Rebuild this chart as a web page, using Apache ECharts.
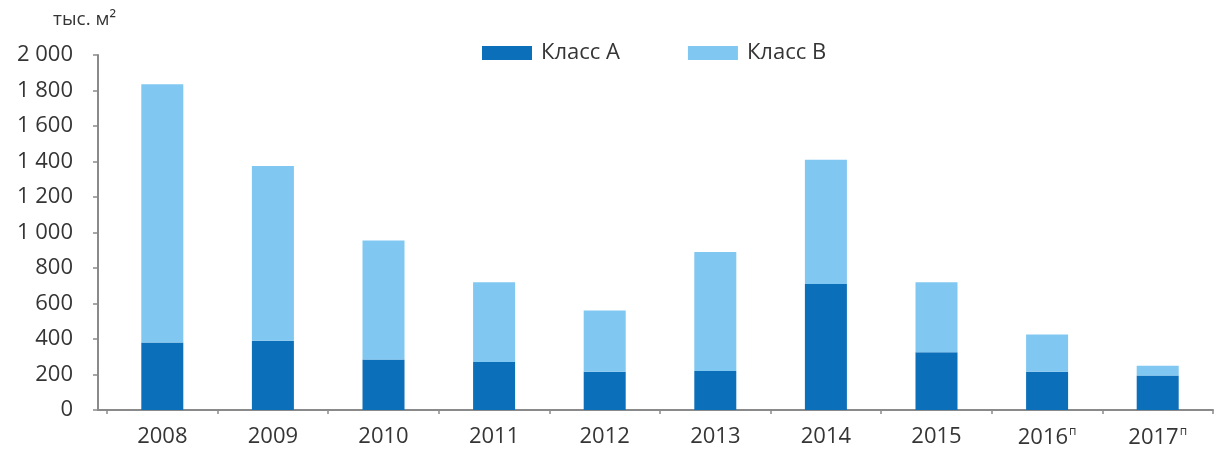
<!DOCTYPE html>
<html>
<head>
<meta charset="utf-8">
<script src="https://cdn.jsdelivr.net/npm/echarts@6/dist/echarts.min.js"></script>
<style>html,body{margin:0;padding:0;background:#fff}#c{width:1220px;height:450px}</style>
</head>
<body>
<div id="c"></div>
<script>
var years = ['2008','2009','2010','2011','2012','2013','2014','2015','2016','2017'];
var forecastMark = ['', '', '', '', '', '', '', '', 'п', 'п'];
var classA = [380, 390, 285, 270, 215, 220, 710, 325, 215, 195];
var classB = [1455, 985, 670, 450, 345, 670, 700, 395, 210, 55];
var yTicks = {min: 0, max: 2000, interval: 200};
var unitLabel = 'тыс. м²';
var seriesNames = ['Класс А', 'Класс В'];

var FONT = '"Open Sans", "Noto Sans", sans-serif';
var TXT = '#353535';
var AX = '#8a8a8a';

function fmtThousands(v){
  var s = String(v);
  return s.length > 3 ? s.slice(0, s.length-3) + ' ' + s.slice(s.length-3) : s;
}

var chart = echarts.init(document.getElementById('c'), null, {renderer:'canvas'});
chart.setOption({
  backgroundColor: '#ffffff',
  animation: false,
  textStyle: {fontFamily: FONT},
  legend: {
    left: 477, top: 37, icon: 'rect',
    itemWidth: 50, itemHeight: 14, itemGap: 68,
    textStyle: {fontFamily: FONT, fontSize: 22, color: TXT, padding: [0,0,0,4]},
    data: seriesNames
  },
  graphic: [{
    type: 'text', left: 53, top: 10,
    style: {text: unitLabel, font: '19px ' + FONT, fill: TXT}
  }],
  grid: [
    {left: 107, right: 7, top: 55, bottom: 40},
    {left: 98, right: 7, top: 55, bottom: 40}
  ],
  xAxis: [{
    type: 'category', gridIndex: 0, data: years,
    axisLine: {show: false},
    axisTick: {show: true, length: 4, lineStyle: {color: AX, width: 1.5}},
    axisLabel: {
      interval: 0, margin: 16, color: TXT, fontFamily: FONT, fontSize: 22,
      formatter: function(v, i){
        var m = forecastMark[i];
        return m ? v + '{sup|' + m + '}' : v;
      },
      rich: {sup: {fontSize: 12, color: TXT, fontFamily: FONT, verticalAlign: 'top', padding: [0,0,12,1]}}
    }
  },{
    type: 'value', gridIndex: 1, min: 0, max: 1,
    axisLine: {show: true, onZero: false, lineStyle: {color: AX, width: 2}},
    axisTick: {show: false}, axisLabel: {show: false}, splitLine: {show: false}
  }],
  yAxis: [{
    type: 'value', gridIndex: 0, min: yTicks.min, max: yTicks.max, interval: yTicks.interval,
    show: false
  },{
    type: 'value', gridIndex: 1, min: yTicks.min, max: yTicks.max, interval: yTicks.interval,
    axisLine: {show: true, lineStyle: {color: AX, width: 2}},
    axisTick: {show: true, inside: false, length: 5, lineStyle: {color: AX, width: 1.5}},
    splitLine: {show: false},
    axisLabel: {margin: 25, color: TXT, fontFamily: FONT, fontSize: 22, formatter: fmtThousands}
  }],
  series: [{
    name: seriesNames[0], type: 'bar', stack: 's', xAxisIndex: 0, yAxisIndex: 0,
    barWidth: 42, data: classA, itemStyle: {color: '#0B6FBA'}
  },{
    name: seriesNames[1], type: 'bar', stack: 's', xAxisIndex: 0, yAxisIndex: 0,
    barWidth: 42, data: classB, itemStyle: {color: '#80C7F1'}
  }]
});
</script>
</body>
</html>
